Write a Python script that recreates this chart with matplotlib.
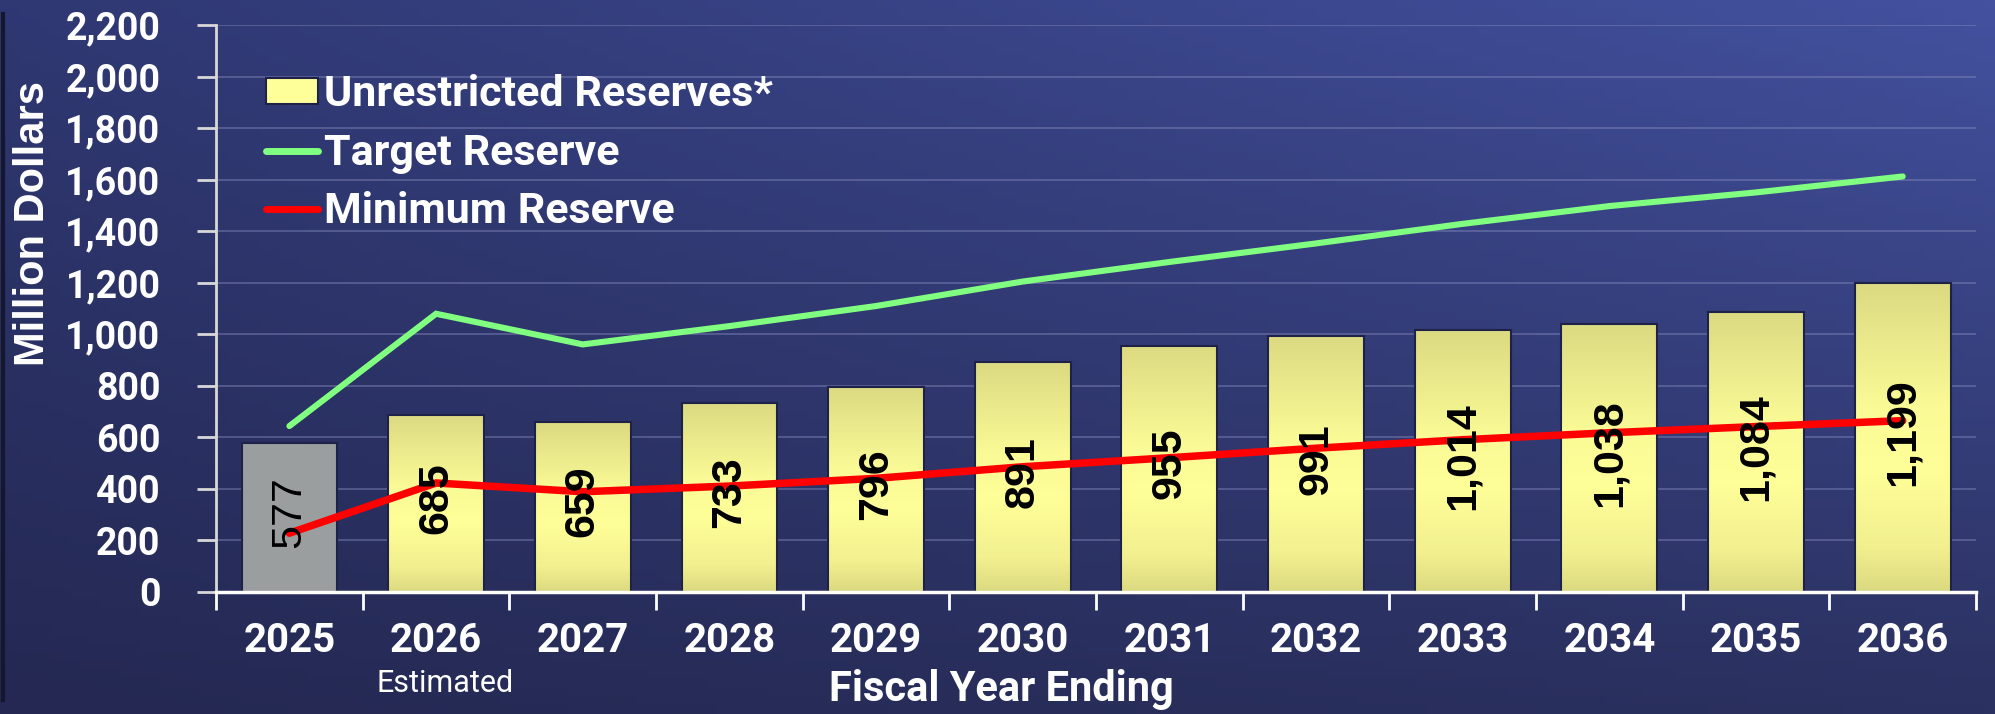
import numpy as np
import matplotlib
matplotlib.use("Agg")
import matplotlib.pyplot as plt
from matplotlib.colors import LinearSegmentedColormap
from matplotlib.patches import Patch
from matplotlib.lines import Line2D

# data
years = ['2025', '2026', '2027', '2028', '2029', '2030',
         '2031', '2032', '2033', '2034', '2035', '2036']
unrestricted = [577, 685, 659, 733, 796, 891, 955, 991, 1014, 1038, 1084, 1199]
target = [643, 1079, 960, 1031, 1109, 1204, 1280, 1352, 1428, 1497, 1550, 1612]
minimum = [227, 422, 388, 410, 440, 485, 520, 557, 590, 617, 641, 664]
value_labels = ['577', '685', '659', '733', '796', '891',
                '955', '991', '1,014', '1,038', '1,084', '1,199']
y_ticks = [0, 200, 400, 600, 800, 1000, 1200, 1400, 1600, 1800, 2000, 2200]

fig = plt.figure(figsize=(19.95, 7.14), dpi=100)

# background gradient (dark navy bottom-left -> lighter blue top-right)
bg = fig.add_axes([0, 0, 1, 1], zorder=-10)
bg.axis('off')
tl = np.array([0x2F, 0x38, 0x72]) / 255
tr = np.array([0x43, 0x51, 0x9F]) / 255
bl = np.array([0x24, 0x28, 0x52]) / 255
br = np.array([0x2B, 0x31, 0x60]) / 255
u = np.linspace(0, 1, 200)[None, :, None]
v = np.linspace(0, 1, 80)[:, None, None]  # 0 = top
img = (1 - v) * ((1 - u) * tl + u * tr) + v * ((1 - u) * bl + u * br)
bg.imshow(img, extent=[0, 1, 0, 1], aspect='auto', origin='upper')
bg.set_xlim(0, 1)
bg.set_ylim(0, 1)
bg.plot([0.0015, 0.0015], [0.02, 0.98], color='#15172e', lw=3)

ax = fig.add_axes([0.1083, 0.1713, 0.8822, 0.7937])
ax.patch.set_alpha(0)

x = np.arange(len(years))
bar_w = 0.653
yellow = LinearSegmentedColormap.from_list(
    'bar', [(0, '#DCDA80'), (0.15, '#F2F08F'), (0.4, '#FFFF99'),
            (0.6, '#FAFA96'), (1, '#DCDA82')])
grad = np.linspace(0, 1, 256)[:, None]

bars = ax.bar(x, unrestricted, width=bar_w, color='#FFFF99',
              edgecolor='#1E2248', linewidth=1.5, zorder=2)
for i, b in enumerate(bars):
    if i == 0:
        b.set_facecolor('#9A9E9F')
        continue
    b.set_facecolor('none')
    im = ax.imshow(grad, extent=[b.get_x(), b.get_x() + b.get_width(), 0, b.get_height()],
                   origin='lower', aspect='auto', cmap=yellow, zorder=1.9)
    im.set_clip_path(b)

ax.plot(x, target, color='#80FF80', lw=4.4, solid_capstyle='round',
        solid_joinstyle='miter', zorder=3)
ax.plot(x, minimum, color='#FF0000', lw=5.4, solid_capstyle='round',
        solid_joinstyle='miter', zorder=3)

for i, (val, lab) in enumerate(zip(unrestricted, value_labels)):
    ax.text(x[i], val / 2 + 20, lab, rotation=90, ha='center', va='center',
            fontsize=31, color='black', family='Liberation Sans',
            fontweight='normal' if i == 0 else 'bold', zorder=4)

ax.set_xlim(-0.5, len(years) - 0.5)
ax.set_ylim(0, 2200)
ax.set_yticks(y_ticks)
ax.set_yticklabels([f'{t:,}' for t in y_ticks], fontsize=27, fontweight='bold',
                   family='Roboto', color='white')
ax.set_xticks(x)
ax.set_xticklabels(years, fontsize=29, fontweight='bold', family='Roboto', color='white')
ax.set_xticks(np.arange(-0.5, len(years)), minor=True)
ax.tick_params(axis='x', which='major', length=0, pad=22)
ax.tick_params(axis='x', which='minor', length=13, width=2, color='white', direction='out')
ax.tick_params(axis='y', length=14, width=2, color='#D8D8D8', pad=26)

ax.grid(axis='y', color='#8A8FC0', alpha=0.45, lw=1.3, zorder=0)
ax.set_axisbelow(True)
for s in ['top', 'right']:
    ax.spines[s].set_visible(False)
ax.spines['left'].set_color('#D8D8D8')
ax.spines['left'].set_linewidth(2)
ax.spines['bottom'].set_color('white')
ax.spines['bottom'].set_linewidth(2.5)
ax.spines['bottom'].set_zorder(5)

handles = [Patch(facecolor='#FFFF99', edgecolor='#1E2248', linewidth=1.5),
           Line2D([], [], color='#80FF80', lw=5, solid_capstyle='round'),
           Line2D([], [], color='#FF0000', lw=5, solid_capstyle='round')]
leg = ax.legend(handles, ['Unrestricted Reserves*', 'Target Reserve', 'Minimum Reserve'],
                loc='upper left', bbox_to_anchor=(266 / 1995, 1 - 74 / 714),
                bbox_transform=fig.transFigure, frameon=False,
                prop={'family': 'Roboto', 'weight': 'bold', 'size': 31},
                handlelength=1.2, handleheight=0.55, handletextpad=0.15,
                labelspacing=0.41, borderpad=0, borderaxespad=0)
for t in leg.get_texts():
    t.set_color('white')

fig.text(33 / 1995, 1 - 223 / 714, 'Million Dollars', rotation=90, ha='center', va='center',
         fontsize=30, fontweight='bold', family='Liberation Sans', color='white')
fig.text(1001 / 1995, 1 - 690 / 714, 'Fiscal Year Ending', ha='center', va='center',
         fontsize=30, fontweight='bold', family='Roboto', color='white')
fig.text(445 / 1995, 1 - 684 / 714, 'Estimated', ha='center', va='center',
         fontsize=22, family='Roboto', color='white')

fig.savefig('out.png', dpi=100)
